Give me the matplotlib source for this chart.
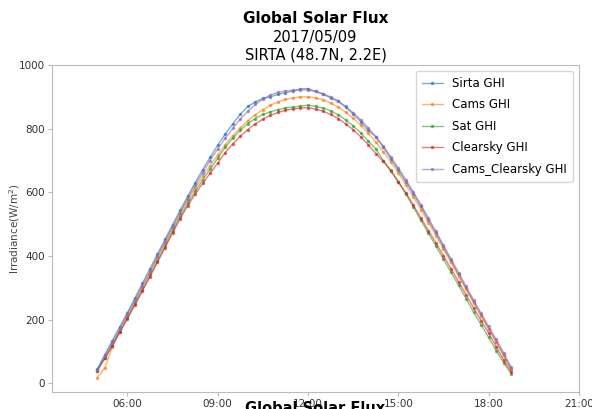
import matplotlib
matplotlib.use('Agg')
import matplotlib.pyplot as plt
import matplotlib.dates as mdates
import pandas as pd

# 15 minute samples for 2017/05/09
times = pd.date_range('2017-05-09 05:00', '2017-05-09 18:45', freq='15min')

sirta_ghi = [45, 90, 134, 178, 222, 268, 314, 360, 406, 452, 498, 543, 587, 630, 671,
             710, 748, 783, 815, 845, 870, 884, 895, 900, 908, 913, 918, 925, 926,
             917, 908, 897, 886, 868, 846, 822, 795, 775, 742, 706, 670, 633, 596, 556,
             513, 472, 428, 385, 342, 299, 256, 214, 172, 130, 88, 45]
cams_ghi = [18, 48, 115, 168, 212, 257, 302, 348, 394, 441, 487, 532, 575, 614, 650,
            684, 717, 750, 778, 803, 825, 844, 860, 873, 884, 892, 897, 900, 900,
            897, 891, 881, 868, 852, 833, 811, 786, 758, 728, 696, 661, 624, 586, 546,
            505, 464, 422, 380, 337, 295, 253, 212, 172, 131, 88, 42]
sat_ghi = [40, 79, 120, 162, 205, 249, 294, 339, 385, 431, 478, 523, 565, 603, 639,
           673, 707, 742, 770, 795, 816, 832, 845, 853, 860, 865, 868, 871, 874,
           870, 865, 856, 844, 828, 809, 787, 761, 737, 700, 670, 633, 595, 554, 512,
           471, 431, 390, 349, 308, 266, 224, 184, 144, 103, 64, 30]
clearsky_ghi = [40, 78, 118, 160, 203, 246, 290, 335, 380, 426, 472, 516, 557, 594, 628,
                660, 692, 725, 752, 776, 797, 815, 830, 842, 851, 858, 862, 865, 866,
                862, 855, 845, 832, 815, 797, 774, 750, 722, 697, 667, 633, 598, 560, 519,
                480, 441, 401, 360, 319, 278, 237, 197, 158, 115, 73, 36]
cams_clearsky_ghi = [42, 85, 128, 172, 216, 261, 307, 353, 399, 445, 491, 536, 580, 622, 662,
                     700, 736, 770, 801, 830, 855, 876, 893, 906, 914, 919, 921, 922, 921,
                     917, 910, 900, 887, 870, 850, 828, 803, 775, 745, 712, 677, 640, 601, 561,
                     519, 477, 434, 391, 348, 305, 262, 220, 179, 138, 96, 51]

labels = ['Sirta GHI', 'Cams GHI', 'Sat GHI', 'Clearsky GHI', 'Cams_Clearsky GHI']
series = [sirta_ghi, cams_ghi, sat_ghi, clearsky_ghi, cams_clearsky_ghi]
colors = ['#1f77b4', '#ff7f0e', '#2ca02c', '#d62728', '#9467bd']

fig = plt.figure(figsize=(5.92, 4.09), dpi=100)
ax = fig.add_axes([0.088, 0.041, 0.890, 0.800])

for vals, lab, col in zip(series, labels, colors):
    ax.plot(times, vals, marker='.', markersize=3, linewidth=1, alpha=0.6,
            color=col, label=lab)

ax.set_xlim(pd.Timestamp('2017-05-09 03:30'), pd.Timestamp('2017-05-09 21:00'))
ax.set_ylim(-28, 1000)
ax.set_yticks([0, 200, 400, 600, 800, 1000])
ax.xaxis.set_major_locator(mdates.HourLocator(byhour=range(6, 22, 3)))
ax.xaxis.set_major_formatter(mdates.DateFormatter('%H:%M'))

for sp in ax.spines.values():
    sp.set_color('#bbbbbb')
ax.tick_params(color='#bbbbbb', labelcolor='#333333', labelsize=7.5, length=3, pad=2)

ax.set_ylabel('Irradiance(W/m$^2$)', fontsize=7.5, color='#444444')
ax.yaxis.set_label_coords(-0.058, 0.5)

ax.legend(loc='upper right', fontsize=8.5, handlelength=1.8, labelspacing=0.72,
          borderpad=0.5)

# title block above the axes
fig.suptitle('Global Solar Flux', x=0.533, y=1 - 23 / 409, va='baseline',
             fontsize=11, fontweight='bold')
ax.set_title('2017/05/09\nSIRTA (48.7N, 2.2E)', fontsize=10.5, pad=4)

# title of the next figure, mostly below the bottom edge
fig.text(0.533, 1 - 401 / 409, 'Global Solar Flux', ha='center', va='top',
         fontsize=10.5, fontweight='bold')

fig.savefig('out.png', dpi=100)
